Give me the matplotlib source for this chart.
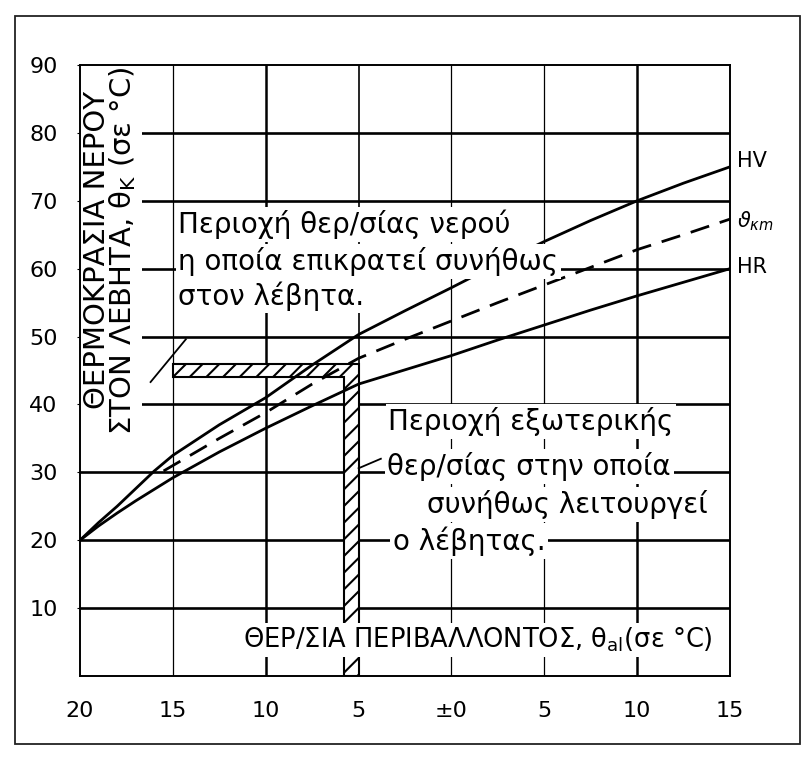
import matplotlib
matplotlib.use("Agg")
import matplotlib.pyplot as plt
from matplotlib.patches import Polygon, Rectangle

plt.rcParams['font.family'] = ['DejaVu Sans']
plt.rcParams['hatch.linewidth'] = 1.5

# ---- data ----
x_curve = [-20, -19, -18, -17, -16, -15, -12.5, -10, -7.5, -5, -2.5, 0, 2.5, 5, 7.5, 10, 12.5, 15]
hv_vals = [20, 22.6, 25.0, 27.6, 30.2, 32.5, 37.0, 41.0, 45.8, 50.3, 53.8, 57.2, 60.7, 64.0, 67.1, 70.0, 72.6, 75.0]
hr_vals = [20, 22.1, 24.0, 25.8, 27.5, 29.2, 33.0, 36.5, 39.8, 43.0, 45.1, 47.2, 49.5, 51.7, 53.9, 56.0, 58.0, 60.0]
x_mean = [-15.5, -15, -12.5, -10, -7.5, -5, -2.5, 0, 2.5, 5, 7.5, 10, 12.5, 15]
mean_vals = [30.2, 31.0, 35.0, 38.8, 43.0, 46.8, 49.6, 52.3, 55.0, 57.6, 60.2, 62.8, 65.0, 67.3]

x_ticks = [-20, -15, -10, -5, 0, 5, 10, 15]
x_tick_labels = ['20', '15', '10', '5', '±0', '5', '10', '15']
y_ticks = [10, 20, 30, 40, 50, 60, 70, 80, 90]
y_tick_labels = ['10', '20', '30', '40', '50', '60', '70', '80', '90']

# usual boiler water temperature band and usual outside-temperature column
band_x = [-15, -5]
band_y = [44, 46]
column_x = [-5.8, -5]

water_zone_lines = ["Περιοχή θερ/σίας νερού", "η οποία επικρατεί συνήθως", "στον λέβητα."]
outside_zone_lines = ["Περιοχή εξωτερικής", "θερ/σίας στην οποία", "συνήθως λειτουργεί", "ο λέβητας."]
curve_labels = ["HV", r"$\vartheta_{\kappa m}$", "HR"]

ylabel_text = "ΘΕΡΜΟΚΡΑΣΙΑ ΝΕΡΟΥ\nΣΤΟΝ ΛΕΒΗΤΑ, θ$_{\\mathrm{K}}$ (σε °C)"
xlabel_text = "ΘΕΡ/ΣΙΑ ΠΕΡΙΒΑΛΛΟΝΤΟΣ, θ$_{\\mathrm{al}}$(σε °C)"

# ---- figure ----
W, H = 806, 757
fig = plt.figure(figsize=(W / 100, H / 100), dpi=100)
fig.patch.set_facecolor('white')
ax = fig.add_axes([80 / W, (H - 676) / H, 650 / W, (676 - 65) / H])
ax.set_xlim(-20, 15)
ax.set_ylim(0, 90)

# page frame
fig.patches.append(Rectangle((15 / W, 13 / H), 785 / W, 728 / H, transform=fig.transFigure,
                             fill=False, ec='#222222', lw=1.3))

# gridlines
for yv in y_ticks[:-1]:
    ax.axhline(yv, color='black', lw=1.9, zorder=1)
vlw = {-15: 0.9, -10: 1.8, -5: 1.2, 0: 0.9, 5: 0.9, 10: 1.8}
for xv in x_ticks[1:-1]:
    ax.axvline(xv, color='black', lw=vlw.get(xv, 1.0), zorder=1)

# hatched L-shaped region
poly = Polygon([(band_x[0], band_y[1]), (band_x[1], band_y[1]), (column_x[1], 0),
                (column_x[0], 0), (column_x[0], band_y[0]), (band_x[0], band_y[0])],
               closed=True, fc='white', ec='black', lw=1.5, hatch='//', zorder=2)
ax.add_patch(poly)
# small leader strokes
ax.plot([-16.2, -14.3], [43.3, 49.6], color='black', lw=1.3, zorder=2)
ax.plot([-5.0, -3.8], [30.6, 32.0], color='black', lw=1.3, zorder=2)

# curves
ax.plot(x_curve, hv_vals, color='black', lw=2.0, zorder=3)
ax.plot(x_curve, hr_vals, color='black', lw=2.0, zorder=3)
ax.plot(x_mean, mean_vals, color='black', lw=2.0, ls=(0, (7, 4)), zorder=3)

# curve labels
ax.text(15.4, 75.8, curve_labels[0], fontsize=15, ha='left', va='center', clip_on=False)
ax.text(15.4, 67.0, curve_labels[1], fontsize=15, ha='left', va='center', clip_on=False)
ax.text(15.4, 60.3, curve_labels[2], fontsize=15, ha='left', va='center', clip_on=False)

box = dict(boxstyle='square,pad=0.1', fc='white', ec='none')
# zone annotations
for txt, yv in zip(water_zone_lines, [65.2, 59.8, 54.7]):
    ax.text(-14.7, yv, txt, fontsize=20, ha='left', va='baseline', bbox=box, zorder=4)
for txt, xv, yv in zip(outside_zone_lines, [-3.4, -3.45, -1.3, -3.15], [36.2, 29.6, 24.0, 18.6]):
    ax.text(xv, yv, txt, fontsize=20, ha='left', va='baseline', bbox=box, zorder=4)

# axis labels inside the plot
ax.text(-18.35, 62.7, ylabel_text, rotation=90, fontsize=21, ha='center', va='center',
        linespacing=0.85, bbox=dict(boxstyle='square,pad=0.12', fc='white', ec='none'), zorder=4)
ax.text(1.45, 5.3, xlabel_text, fontsize=18.5, ha='center', va='center',
        bbox=dict(boxstyle='square,pad=0.12', fc='white', ec='none'), zorder=4)

# ticks
ax.set_xticks(x_ticks)
ax.set_xticklabels(x_tick_labels)
ax.set_yticks(y_ticks)
ax.set_yticklabels(y_tick_labels)
ax.tick_params(axis='x', length=0, pad=18, labelsize=16)
ax.tick_params(axis='y', length=4, direction='inout', pad=14, labelsize=16)
for s in ax.spines.values():
    s.set_linewidth(1.4)
    s.set_zorder(6)

fig.savefig('out.png', dpi=100)
